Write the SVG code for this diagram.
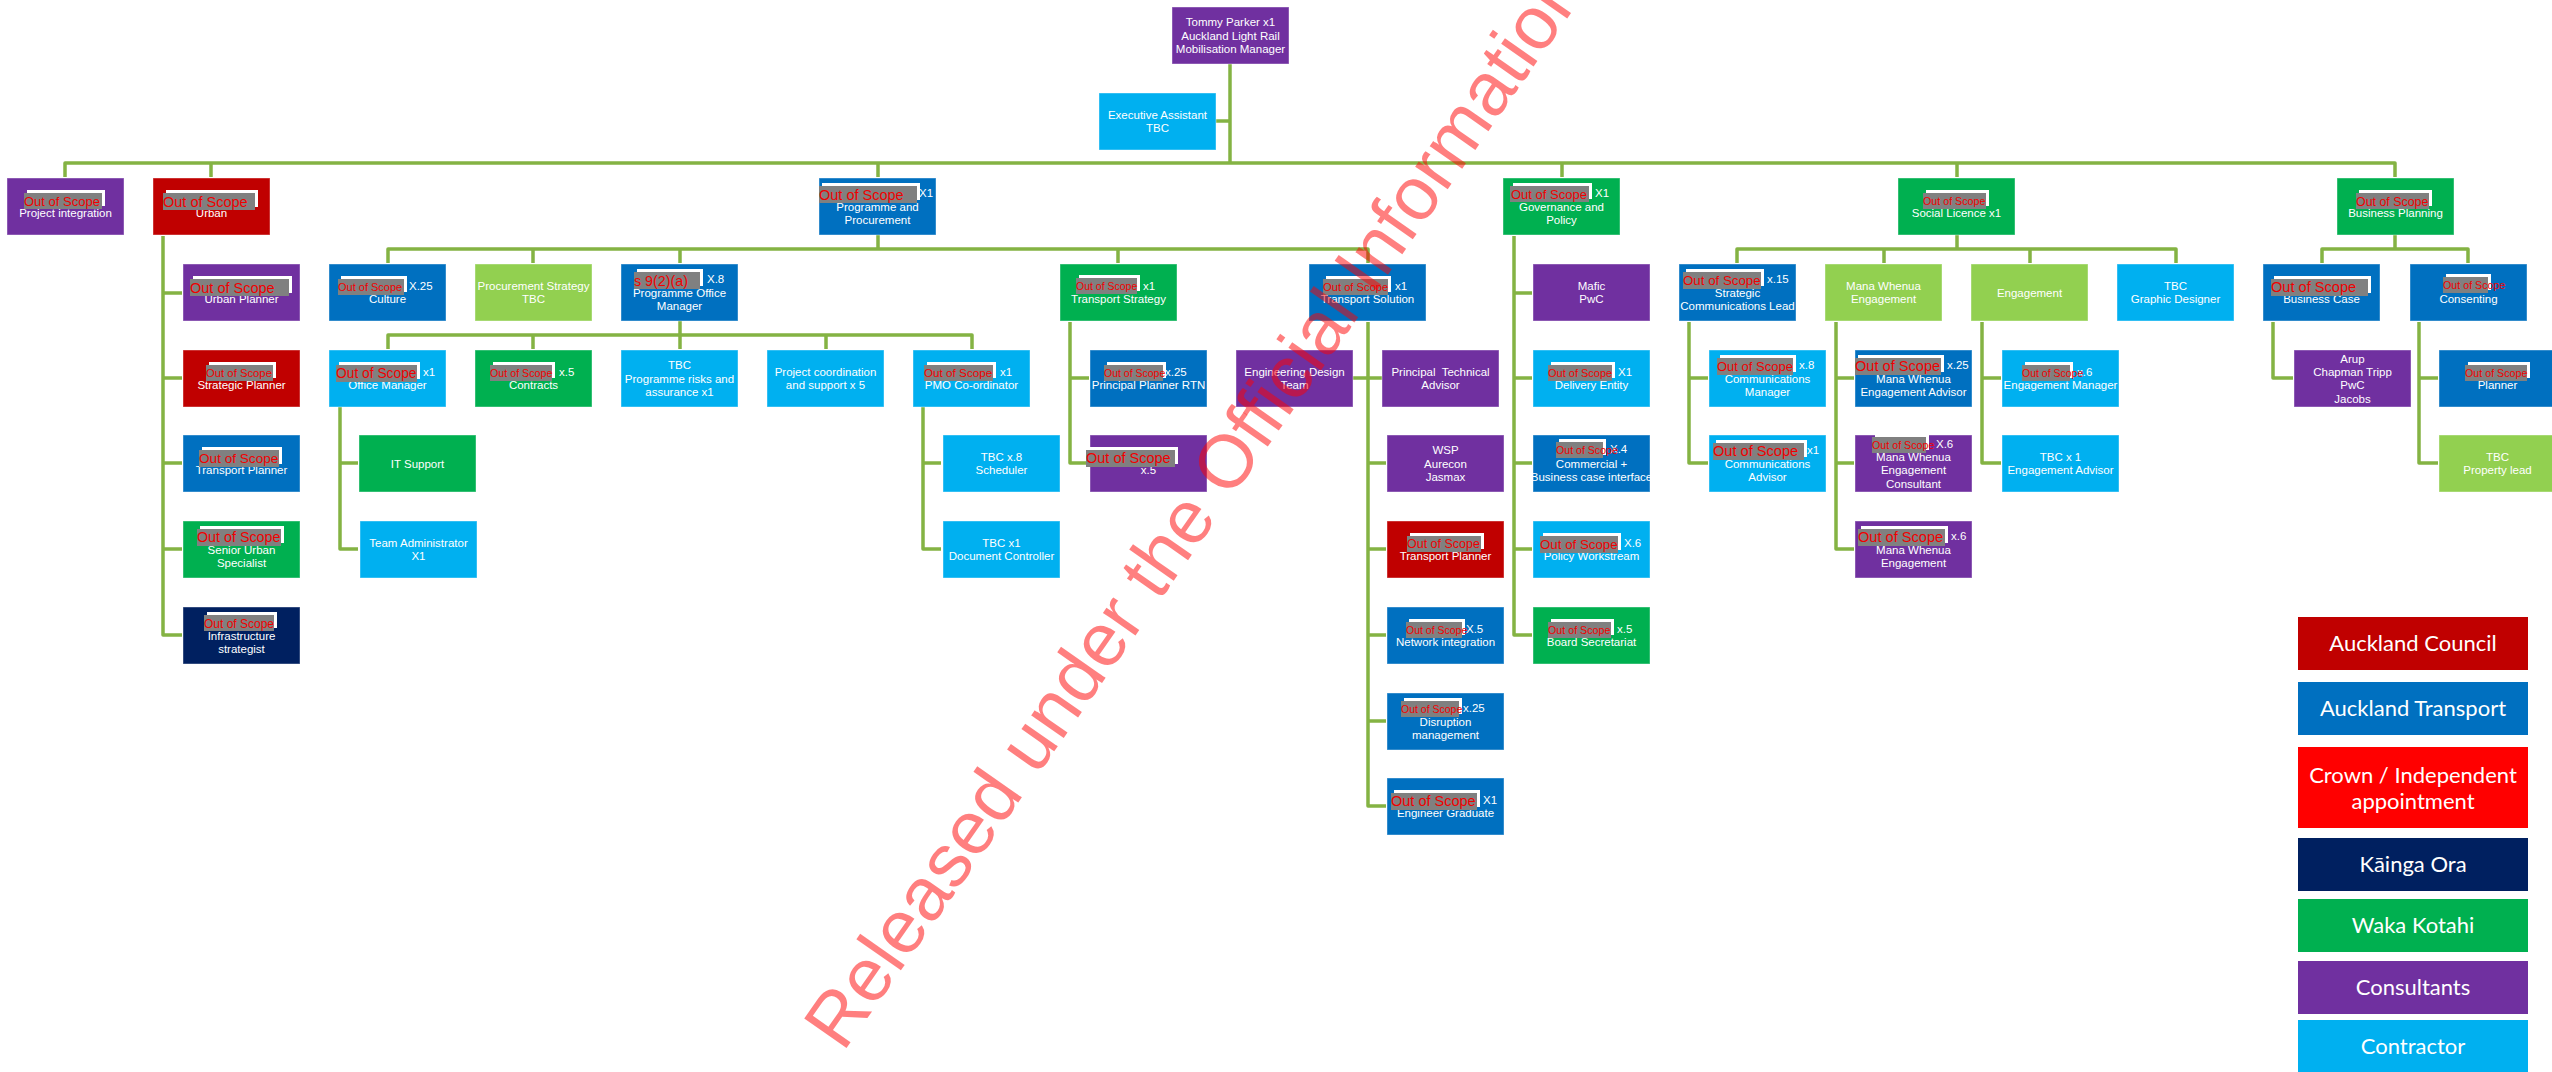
<svg xmlns="http://www.w3.org/2000/svg" width="2552" height="1072" viewBox="0 0 2552 1072">
<style>
  .bg { fill: #ffffff; }
  .nb { stroke: #ffffff; stroke-opacity: 0.4; stroke-width: 1; }
  .pu { fill: #7030A0; } .ac { fill: #C00000; } .at { fill: #0070C0; }
  .cr { fill: #FF0000; } .ko { fill: #002060; } .wk { fill: #00B050; }
  .lg { fill: #92D050; } .co { fill: #00B0F0; }
  .t { font-family: "Liberation Sans", Arial, sans-serif; font-size: 11.5px; fill: #ffffff; text-anchor: middle; }
  .s { font-family: "Liberation Sans", Arial, sans-serif; font-size: 11.5px; fill: #ffffff; text-anchor: start; }
  .rw { fill: #ffffff; }
  .rg { fill: #808080; }
  .rr { font-family: "Liberation Sans", Arial, sans-serif; fill: #F00000; text-anchor: start; }
  .lt { font-family: Lato, "Open Sans", sans-serif; font-size: 22px; fill: #ffffff; text-anchor: middle; }
  .cn { fill: none; stroke: #84B343; stroke-width: 3.5; stroke-linejoin: round; stroke-linecap: butt; }
  .wm { font-family: "Liberation Sans", Arial, sans-serif; font-size: 75px; fill: #FF0000; fill-opacity: 0.5; }
</style>
<rect class="bg" x="0" y="0" width="2552" height="1072"/>

<!-- connectors -->
<g id="connectors" class="cn">
  <path d="M1230,64 V163"/>
  <path d="M1216,121 H1230"/>
  <path d="M65,177 V163 H2395 V177"/>
  <path d="M211,163 V177 M878,163 V177 M1562,163 V177 M1957,163 V177"/>
  <!-- Urban -->
  <path d="M163,236 V635 H182 M163,293 H182 M163,378 H182 M163,463 H182 M163,549 H182"/>
  <!-- Programme and Procurement -->
  <path d="M878,235 V249 M388,263 V249 H1368 V263 M533,249 V263 M680,249 V263 M1118,249 V263"/>
  <path d="M680,321 V335 M388,349 V335 H972 V349 M533,335 V349 M680,335 V349 M826,335 V349"/>
  <path d="M340,407 V549 H358 M340,463 H358"/>
  <path d="M923,407 V549 H941 M923,463 H941"/>
  <path d="M1070,322 V463 H1088 M1070,378 H1089"/>
  <path d="M1368,322 V806 H1386 M1353,378 H1382 M1368,463 H1386 M1368,549 H1386 M1368,635 H1386 M1368,721 H1386"/>
  <!-- Governance and Policy -->
  <path d="M1514,236 V635 H1532 M1514,293 H1532 M1514,378 H1532 M1514,463 H1532 M1514,549 H1532"/>
  <!-- Social Licence -->
  <path d="M1957,235 V249 M1737,263 V249 H2176 V263 M1884,249 V263 M2030,249 V263"/>
  <path d="M1689,322 V463 H1708 M1689,378 H1708"/>
  <path d="M1836,322 V549 H1854 M1836,378 H1854 M1836,463 H1854"/>
  <path d="M1982,322 V463 H2001 M1982,378 H2001"/>
  <!-- Business Planning -->
  <path d="M2395,235 V249 M2322,263 V249 H2468 V263"/>
  <path d="M2273,322 V378 H2293"/>
  <path d="M2419,322 V463 H2438 M2419,378 H2438"/>
</g>

<!-- top -->
<g id="n-mobilisation-manager">
  <rect class="pu nb" x="1172" y="7" width="117" height="57"/>
  <text class="t" x="1230.5" y="26">Tommy Parker x1</text>
  <text class="t" x="1230.5" y="39.5">Auckland Light Rail</text>
  <text class="t" x="1230.5" y="53">Mobilisation Manager</text>
</g>
<g id="n-executive-assistant">
  <rect class="co nb" x="1099" y="93" width="117" height="57"/>
  <text class="t" x="1157.5" y="118.5">Executive Assistant</text>
  <text class="t" x="1157.5" y="131.5">TBC</text>
</g>

<!-- level 1 -->
<g id="n-project-integration">
  <rect class="pu nb" x="7" y="178" width="117" height="57"/>
  <text class="t" x="65.5" y="217">Project integration</text>
  <rect class="rw" x="27" y="190" width="78" height="16"/>
  <rect class="rg" x="24" y="193" width="78" height="16"/>
  <text class="rr" x="24" y="206" font-size="13">Out of Scope</text>
</g>
<g id="n-urban">
  <rect class="ac nb" x="153" y="178" width="117" height="57"/>
  <text class="t" x="211.5" y="217">Urban</text>
  <rect class="rw" x="166" y="190" width="92" height="17"/>
  <rect class="rg" x="163" y="193" width="92" height="17"/>
  <text class="rr" x="163" y="206.5" font-size="14.5">Out of Scope</text>
</g>
<g id="n-programme-procurement">
  <rect class="at nb" x="819" y="178" width="117" height="57"/>
  <text class="s" x="919" y="197">X1</text>
  <text class="t" x="877.5" y="210.5">Programme and</text>
  <text class="t" x="877.5" y="224">Procurement</text>
  <rect class="rw" x="822" y="183" width="98" height="17"/>
  <rect class="rg" x="819" y="186" width="98" height="17"/>
  <text class="rr" x="819" y="199.5" font-size="14.5">Out of Scope</text>
</g>
<g id="n-governance-policy">
  <rect class="wk nb" x="1503" y="178" width="117" height="57"/>
  <text class="s" x="1595" y="197">X1</text>
  <text class="t" x="1561.5" y="210.5">Governance and</text>
  <text class="t" x="1561.5" y="224">Policy</text>
  <rect class="rw" x="1513" y="183" width="79" height="16"/>
  <rect class="rg" x="1510" y="186" width="79" height="16"/>
  <text class="rr" x="1511" y="198.5" font-size="13">Out of Scope</text>
</g>
<g id="n-social-licence">
  <rect class="wk nb" x="1898" y="178" width="117" height="57"/>
  <text class="t" x="1956.5" y="217">Social Licence x1</text>
  <rect class="rw" x="1926" y="190" width="63" height="16"/>
  <rect class="rg" x="1923" y="193" width="63" height="16"/>
  <text class="rr" x="1923" y="205" font-size="10.7">Out of Scope</text>
</g>
<g id="n-business-planning">
  <rect class="wk nb" x="2337" y="178" width="117" height="57"/>
  <text class="t" x="2395.5" y="217">Business Planning</text>
  <rect class="rw" x="2359" y="190" width="73" height="16"/>
  <rect class="rg" x="2356" y="193" width="73" height="16"/>
  <text class="rr" x="2356" y="205.5" font-size="12.4">Out of Scope</text>
</g>

<!-- Urban column -->
<g id="n-urban-planner">
  <rect class="pu nb" x="183" y="264" width="117" height="57"/>
  <text class="t" x="241.5" y="303">Urban Planner</text>
  <rect class="rw" x="193" y="276" width="99" height="17"/>
  <rect class="rg" x="190" y="279" width="99" height="17"/>
  <text class="rr" x="190" y="292.5" font-size="14.5">Out of Scope</text>
</g>
<g id="n-strategic-planner">
  <rect class="ac nb" x="183" y="350" width="117" height="57"/>
  <text class="t" x="241.5" y="389">Strategic Planner</text>
  <rect class="rw" x="209" y="362" width="67" height="16"/>
  <rect class="rg" x="206" y="365" width="67" height="16"/>
  <text class="rr" x="206" y="377" font-size="11.3">Out of Scope</text>
</g>
<g id="n-transport-planner-urban">
  <rect class="at nb" x="183" y="435" width="117" height="57"/>
  <text class="t" x="241.5" y="474">Transport Planner</text>
  <rect class="rw" x="202" y="447" width="80" height="17"/>
  <rect class="rg" x="199" y="450" width="80" height="17"/>
  <text class="rr" x="199" y="462.5" font-size="13.6">Out of Scope</text>
</g>
<g id="n-senior-urban-specialist">
  <rect class="wk nb" x="183" y="521" width="117" height="57"/>
  <text class="t" x="241.5" y="553.5">Senior Urban</text>
  <text class="t" x="241.5" y="567">Specialist</text>
  <rect class="rw" x="200" y="526" width="84" height="17"/>
  <rect class="rg" x="197" y="529" width="84" height="17"/>
  <text class="rr" x="197" y="542" font-size="14.3">Out of Scope</text>
</g>
<g id="n-infrastructure-strategist">
  <rect class="ko nb" x="183" y="607" width="117" height="57"/>
  <text class="t" x="241.5" y="639.5">Infrastructure</text>
  <text class="t" x="241.5" y="653">strategist</text>
  <rect class="rw" x="207" y="612" width="70" height="16"/>
  <rect class="rg" x="204" y="615" width="70" height="16"/>
  <text class="rr" x="204" y="627.5" font-size="12">Out of Scope</text>
</g>

<!-- Programme and Procurement branch -->
<g id="n-culture">
  <rect class="at nb" x="329" y="264" width="117" height="57"/>
  <text class="s" x="409" y="290">X.25</text>
  <text class="t" x="387.5" y="303">Culture</text>
  <rect class="rw" x="341" y="276" width="66" height="16"/>
  <rect class="rg" x="338" y="279" width="66" height="16"/>
  <text class="rr" x="338" y="291" font-size="11">Out of Scope</text>
</g>
<g id="n-procurement-strategy">
  <rect class="lg nb" x="475" y="264" width="117" height="57"/>
  <text class="t" x="533.5" y="290">Procurement Strategy</text>
  <text class="t" x="533.5" y="303">TBC</text>
</g>
<g id="n-programme-office-manager">
  <rect class="at nb" x="621" y="264" width="117" height="57"/>
  <text class="s" x="707" y="283">X.8</text>
  <text class="t" x="679.5" y="296.5">Programme Office</text>
  <text class="t" x="679.5" y="310">Manager</text>
  <rect class="rw" x="637" y="269" width="66" height="17"/>
  <rect class="rg" x="634" y="272" width="66" height="17"/>
  <text class="rr" x="634" y="285.5" font-size="14.3">s 9(2)(a)</text>
</g>
<g id="n-transport-strategy">
  <rect class="wk nb" x="1060" y="264" width="117" height="57"/>
  <text class="s" x="1143" y="290">x1</text>
  <text class="t" x="1118.5" y="303">Transport Strategy</text>
  <rect class="rw" x="1079" y="275" width="61" height="16"/>
  <rect class="rg" x="1076" y="278" width="61" height="16"/>
  <text class="rr" x="1076" y="290" font-size="10.5">Out of Scope</text>
</g>
<g id="n-transport-solution">
  <rect class="at nb" x="1309" y="264" width="117" height="57"/>
  <text class="s" x="1395" y="290">x1</text>
  <text class="t" x="1367.5" y="303">Transport Solution</text>
  <rect class="rw" x="1326" y="276" width="65" height="16"/>
  <rect class="rg" x="1323" y="279" width="65" height="16"/>
  <text class="rr" x="1323" y="291" font-size="11.2">Out of Scope</text>
</g>
<g id="n-office-manager">
  <rect class="co nb" x="329" y="350" width="117" height="57"/>
  <text class="s" x="423" y="376">x1</text>
  <text class="t" x="387.5" y="389">Office Manager</text>
  <rect class="rw" x="339" y="362" width="81" height="17"/>
  <rect class="rg" x="336" y="365" width="81" height="17"/>
  <text class="rr" x="336" y="378" font-size="13.8">Out of Scope</text>
</g>
<g id="n-contracts">
  <rect class="wk nb" x="475" y="350" width="117" height="57"/>
  <text class="s" x="559" y="376">x.5</text>
  <text class="t" x="533.5" y="389">Contracts</text>
  <rect class="rw" x="493" y="362" width="62" height="16"/>
  <rect class="rg" x="490" y="365" width="62" height="16"/>
  <text class="rr" x="490" y="377" font-size="10.7">Out of Scope</text>
</g>
<g id="n-programme-risks">
  <rect class="co nb" x="621" y="350" width="117" height="57"/>
  <text class="t" x="679.5" y="369">TBC</text>
  <text class="t" x="679.5" y="382.5">Programme risks and</text>
  <text class="t" x="679.5" y="396">assurance x1</text>
</g>
<g id="n-project-coordination">
  <rect class="co nb" x="767" y="350" width="117" height="57"/>
  <text class="t" x="825.5" y="376">Project coordination</text>
  <text class="t" x="825.5" y="389">and support x 5</text>
</g>
<g id="n-pmo-coordinator">
  <rect class="co nb" x="913" y="350" width="117" height="57"/>
  <text class="s" x="1000" y="376">x1</text>
  <text class="t" x="971.5" y="389">PMO Co-ordinator</text>
  <rect class="rw" x="927" y="362" width="69" height="16"/>
  <rect class="rg" x="924" y="365" width="69" height="16"/>
  <text class="rr" x="924" y="377" font-size="11.7">Out of Scope</text>
</g>
<g id="n-it-support">
  <rect class="wk nb" x="359" y="435" width="117" height="57"/>
  <text class="t" x="417.5" y="467.5">IT Support</text>
</g>
<g id="n-team-administrator">
  <rect class="co nb" x="360" y="521" width="117" height="57"/>
  <text class="t" x="418.5" y="547">Team Administrator</text>
  <text class="t" x="418.5" y="560">X1</text>
</g>
<g id="n-scheduler">
  <rect class="co nb" x="943" y="435" width="117" height="57"/>
  <text class="t" x="1001.5" y="461">TBC x.8</text>
  <text class="t" x="1001.5" y="474">Scheduler</text>
</g>
<g id="n-document-controller">
  <rect class="co nb" x="943" y="521" width="117" height="57"/>
  <text class="t" x="1001.5" y="547">TBC x1</text>
  <text class="t" x="1001.5" y="560">Document Controller</text>
</g>

<!-- Transport Strategy branch -->
<g id="n-principal-planner-rtn">
  <rect class="at nb" x="1090" y="350" width="117" height="57"/>
  <text class="s" x="1165" y="376">x.25</text>
  <text class="t" x="1148.5" y="389">Principal Planner RTN</text>
  <rect class="rw" x="1107" y="362" width="59" height="16"/>
  <rect class="rg" x="1104" y="365" width="59" height="16"/>
  <text class="rr" x="1104" y="377" font-size="10.5">Out of Scope</text>
</g>
<g id="n-transport-strategy-x5">
  <rect class="pu nb" x="1090" y="435" width="117" height="57"/>
  <text class="t" x="1148.5" y="474">x.5</text>
  <rect class="rw" x="1089" y="447" width="89" height="17"/>
  <rect class="rg" x="1086" y="450" width="89" height="17"/>
  <text class="rr" x="1086" y="463" font-size="14.5">Out of Scope</text>
</g>

<!-- Transport Solution branch -->
<g id="n-engineering-design-team">
  <rect class="pu nb" x="1236" y="350" width="117" height="57"/>
  <text class="t" x="1294.5" y="376">Engineering Design</text>
  <text class="t" x="1294.5" y="389">Team</text>
</g>
<g id="n-principal-technical-advisor">
  <rect class="pu nb" x="1382" y="350" width="117" height="57"/>
  <text class="t" x="1440.5" y="376" xml:space="preserve">Principal  Technical</text>
  <text class="t" x="1440.5" y="389">Advisor</text>
</g>
<g id="n-wsp-aurecon-jasmax">
  <rect class="pu nb" x="1387" y="435" width="117" height="57"/>
  <text class="t" x="1445.5" y="454">WSP</text>
  <text class="t" x="1445.5" y="467.5">Aurecon</text>
  <text class="t" x="1445.5" y="481">Jasmax</text>
</g>
<g id="n-transport-planner-solution">
  <rect class="ac nb" x="1387" y="521" width="117" height="57"/>
  <text class="t" x="1445.5" y="560">Transport Planner</text>
  <rect class="rw" x="1410" y="533" width="74" height="16"/>
  <rect class="rg" x="1407" y="536" width="74" height="16"/>
  <text class="rr" x="1407" y="548" font-size="12.5">Out of Scope</text>
</g>
<g id="n-network-integration">
  <rect class="at nb" x="1387" y="607" width="117" height="57"/>
  <text class="s" x="1466" y="633">X.5</text>
  <text class="t" x="1445.5" y="646">Network integration</text>
  <rect class="rw" x="1409" y="619" width="56" height="16"/>
  <rect class="rg" x="1406" y="622" width="56" height="16"/>
  <text class="rr" x="1406" y="634" font-size="10.5">Out of Scope</text>
</g>
<g id="n-disruption-management">
  <rect class="at nb" x="1387" y="693" width="117" height="57"/>
  <text class="s" x="1463" y="712">x.25</text>
  <text class="t" x="1445.5" y="725.5">Disruption</text>
  <text class="t" x="1445.5" y="739">management</text>
  <rect class="rw" x="1404" y="698" width="58" height="16"/>
  <rect class="rg" x="1401" y="701" width="58" height="16"/>
  <text class="rr" x="1401" y="713" font-size="10.5">Out of Scope</text>
</g>
<g id="n-engineer-graduate">
  <rect class="at nb" x="1387" y="778" width="117" height="57"/>
  <text class="s" x="1483" y="804">X1</text>
  <text class="t" x="1445.5" y="817">Engineer Graduate</text>
  <rect class="rw" x="1394" y="790" width="86" height="17"/>
  <rect class="rg" x="1391" y="793" width="86" height="17"/>
  <text class="rr" x="1391" y="806" font-size="14.5">Out of Scope</text>
</g>

<!-- Governance and Policy branch -->
<g id="n-mafic-pwc">
  <rect class="pu nb" x="1533" y="264" width="117" height="57"/>
  <text class="t" x="1591.5" y="290">Mafic</text>
  <text class="t" x="1591.5" y="303">PwC</text>
</g>
<g id="n-delivery-entity">
  <rect class="co nb" x="1533" y="350" width="117" height="57"/>
  <text class="s" x="1618" y="376">X1</text>
  <text class="t" x="1591.5" y="389">Delivery Entity</text>
  <rect class="rw" x="1551" y="362" width="64" height="16"/>
  <rect class="rg" x="1548" y="365" width="64" height="16"/>
  <text class="rr" x="1548" y="377" font-size="11">Out of Scope</text>
</g>
<g id="n-commercial">
  <rect class="at nb" x="1533" y="435" width="117" height="57"/>
  <text class="s" x="1610" y="453">X.4</text>
  <text class="t" x="1591.5" y="467.5">Commercial +</text>
  <text class="t" x="1591.5" y="481">Business case interface</text>
  <rect class="rw" x="1559" y="439" width="47" height="16"/>
  <rect class="rg" x="1556" y="442" width="47" height="16"/>
  <text class="rr" x="1556" y="454" font-size="10.6">Out of Scope</text>
</g>
<g id="n-policy-workstream">
  <rect class="co nb" x="1533" y="521" width="117" height="57"/>
  <text class="s" x="1624" y="547">X.6</text>
  <text class="t" x="1591.5" y="560">Policy Workstream</text>
  <rect class="rw" x="1543" y="533" width="78" height="17"/>
  <rect class="rg" x="1540" y="536" width="78" height="17"/>
  <text class="rr" x="1540" y="549" font-size="13.3">Out of Scope</text>
</g>
<g id="n-board-secretariat">
  <rect class="wk nb" x="1533" y="607" width="117" height="57"/>
  <text class="s" x="1617" y="633">x.5</text>
  <text class="t" x="1591.5" y="646">Board Secretariat</text>
  <rect class="rw" x="1551" y="619" width="63" height="16"/>
  <rect class="rg" x="1548" y="622" width="63" height="16"/>
  <text class="rr" x="1548" y="634" font-size="10.7">Out of Scope</text>
</g>

<!-- Social Licence branch -->
<g id="n-strategic-communications-lead">
  <rect class="at nb" x="1679" y="264" width="117" height="57"/>
  <text class="s" x="1767" y="283">x.15</text>
  <text class="t" x="1737.5" y="296.5">Strategic</text>
  <text class="t" x="1737.5" y="310">Communications Lead</text>
  <rect class="rw" x="1686" y="269" width="78" height="17"/>
  <rect class="rg" x="1683" y="272" width="78" height="17"/>
  <text class="rr" x="1683" y="285" font-size="13.3">Out of Scope</text>
</g>
<g id="n-mana-whenua-engagement">
  <rect class="lg nb" x="1825" y="264" width="117" height="57"/>
  <text class="t" x="1883.5" y="290">Mana Whenua</text>
  <text class="t" x="1883.5" y="303">Engagement</text>
</g>
<g id="n-engagement">
  <rect class="lg nb" x="1971" y="264" width="117" height="57"/>
  <text class="t" x="2029.5" y="296.5">Engagement</text>
</g>
<g id="n-graphic-designer">
  <rect class="co nb" x="2117" y="264" width="117" height="57"/>
  <text class="t" x="2175.5" y="290">TBC</text>
  <text class="t" x="2175.5" y="303">Graphic Designer</text>
</g>
<g id="n-communications-manager">
  <rect class="co nb" x="1709" y="350" width="117" height="57"/>
  <text class="s" x="1799" y="369">x.8</text>
  <text class="t" x="1767.5" y="382.5">Communications</text>
  <text class="t" x="1767.5" y="396">Manager</text>
  <rect class="rw" x="1720" y="355" width="76" height="17"/>
  <rect class="rg" x="1717" y="358" width="76" height="17"/>
  <text class="rr" x="1717" y="371" font-size="13">Out of Scope</text>
</g>
<g id="n-communications-advisor">
  <rect class="co nb" x="1709" y="435" width="117" height="57"/>
  <text class="s" x="1807" y="454">x1</text>
  <text class="t" x="1767.5" y="467.5">Communications</text>
  <text class="t" x="1767.5" y="481">Advisor</text>
  <rect class="rw" x="1716" y="440" width="91" height="17"/>
  <rect class="rg" x="1713" y="443" width="91" height="17"/>
  <text class="rr" x="1713" y="456" font-size="14.6">Out of Scope</text>
</g>
<g id="n-mana-whenua-engagement-advisor">
  <rect class="at nb" x="1855" y="350" width="117" height="57"/>
  <text class="s" x="1947" y="369">x.25</text>
  <text class="t" x="1913.5" y="382.5">Mana Whenua</text>
  <text class="t" x="1913.5" y="396">Engagement Advisor</text>
  <rect class="rw" x="1858" y="355" width="86" height="17"/>
  <rect class="rg" x="1855" y="358" width="86" height="17"/>
  <text class="rr" x="1855" y="371" font-size="14.6">Out of Scope</text>
</g>
<g id="n-mana-whenua-engagement-consultant">
  <rect class="pu nb" x="1855" y="435" width="117" height="57"/>
  <text class="s" x="1936" y="447.5">X.6</text>
  <text class="t" x="1913.5" y="461">Mana Whenua</text>
  <text class="t" x="1913.5" y="474">Engagement</text>
  <text class="t" x="1913.5" y="487.5">Consultant</text>
  <rect class="rw" x="1875" y="434" width="54" height="16"/>
  <rect class="rg" x="1872" y="437" width="54" height="16"/>
  <text class="rr" x="1872" y="449" font-size="10.7">Out of Scope</text>
</g>
<g id="n-mana-whenua-engagement-x6">
  <rect class="pu nb" x="1855" y="521" width="117" height="57"/>
  <text class="s" x="1951" y="540">x.6</text>
  <text class="t" x="1913.5" y="553.5">Mana Whenua</text>
  <text class="t" x="1913.5" y="567">Engagement</text>
  <rect class="rw" x="1861" y="526" width="87" height="17"/>
  <rect class="rg" x="1858" y="529" width="87" height="17"/>
  <text class="rr" x="1858" y="542" font-size="14.6">Out of Scope</text>
</g>
<g id="n-engagement-manager">
  <rect class="co nb" x="2002" y="350" width="117" height="57"/>
  <text class="s" x="2077" y="376">x.6</text>
  <text class="t" x="2060.5" y="389">Engagement Manager</text>
  <rect class="rw" x="2025" y="362" width="48" height="16"/>
  <rect class="rg" x="2022" y="365" width="48" height="16"/>
  <text class="rr" x="2022" y="377" font-size="10.5">Out of Scope</text>
</g>
<g id="n-engagement-advisor">
  <rect class="co nb" x="2002" y="435" width="117" height="57"/>
  <text class="t" x="2060.5" y="461">TBC x 1</text>
  <text class="t" x="2060.5" y="474">Engagement Advisor</text>
</g>

<!-- Business Planning branch -->
<g id="n-business-case">
  <rect class="at nb" x="2263" y="264" width="117" height="57"/>
  <text class="t" x="2321.5" y="303">Business Case</text>
  <rect class="rw" x="2274" y="276" width="97" height="17"/>
  <rect class="rg" x="2271" y="279" width="97" height="17"/>
  <text class="rr" x="2271" y="292" font-size="14.6">Out of Scope</text>
</g>
<g id="n-consenting">
  <rect class="at nb" x="2410" y="264" width="117" height="57"/>
  <text class="t" x="2468.5" y="303">Consenting</text>
  <rect class="rw" x="2446" y="274" width="45" height="16"/>
  <rect class="rg" x="2443" y="277" width="45" height="16"/>
  <text class="rr" x="2443" y="289" font-size="10.7">Out of Scope</text>
</g>
<g id="n-arup-chapman-pwc-jacobs">
  <rect class="pu nb" x="2294" y="350" width="117" height="57"/>
  <text class="t" x="2352.5" y="362.5">Arup</text>
  <text class="t" x="2352.5" y="376">Chapman Tripp</text>
  <text class="t" x="2352.5" y="389">PwC</text>
  <text class="t" x="2352.5" y="402.5">Jacobs</text>
</g>
<g id="n-planner">
  <rect class="at nb" x="2439" y="350" width="117" height="57"/>
  <text class="t" x="2497.5" y="389">Planner</text>
  <rect class="rw" x="2468" y="362" width="62" height="16"/>
  <rect class="rg" x="2465" y="365" width="62" height="16"/>
  <text class="rr" x="2465" y="377" font-size="10.7">Out of Scope</text>
</g>
<g id="n-property-lead">
  <rect class="lg nb" x="2439" y="435" width="117" height="57"/>
  <text class="t" x="2497.5" y="461">TBC</text>
  <text class="t" x="2497.5" y="474">Property lead</text>
</g>

<!-- legend -->
<g id="legend">
  <g id="lg-auckland-council">
    <rect class="ac" x="2298" y="617" width="230" height="53"/>
    <text class="lt" x="2413" y="651">Auckland Council</text>
  </g>
  <g id="lg-auckland-transport">
    <rect class="at" x="2298" y="682" width="230" height="53"/>
    <text class="lt" x="2413" y="716">Auckland Transport</text>
  </g>
  <g id="lg-crown">
    <rect class="cr" x="2298" y="747" width="230" height="81"/>
    <text class="lt" x="2413" y="782.5">Crown / Independent</text>
    <text class="lt" x="2413" y="809">appointment</text>
  </g>
  <g id="lg-kainga-ora">
    <rect class="ko" x="2298" y="838" width="230" height="53"/>
    <text class="lt" x="2413" y="872">Kāinga Ora</text>
  </g>
  <g id="lg-waka-kotahi">
    <rect class="wk" x="2298" y="899" width="230" height="53"/>
    <text class="lt" x="2413" y="933">Waka Kotahi</text>
  </g>
  <g id="lg-consultants">
    <rect class="pu" x="2298" y="961" width="230" height="53"/>
    <text class="lt" x="2413" y="995">Consultants</text>
  </g>
  <g id="lg-contractor">
    <rect class="co" x="2298" y="1020" width="230" height="53"/>
    <text class="lt" x="2413" y="1054">Contractor</text>
  </g>
</g>

<!-- release stamp -->
<text class="wm" transform="translate(843,1053) rotate(-55)">Released under the Official Information Act</text>
</svg>
